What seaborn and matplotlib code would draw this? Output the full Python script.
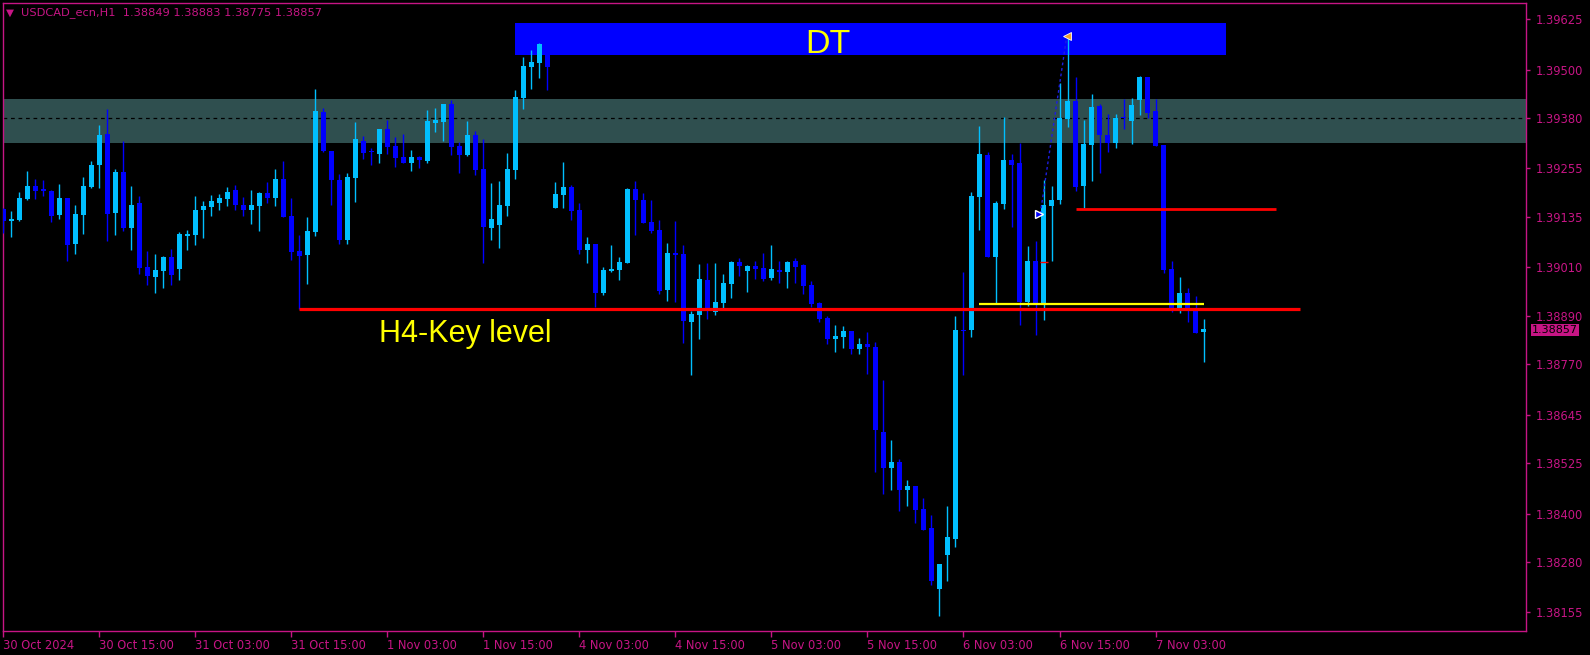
import matplotlib
matplotlib.use("Agg")
import matplotlib.pyplot as plt
import numpy as np
import pandas as pd
import seaborn as sns

# ---------------- data (USDCAD_ecn H1 candles) ----------------
open_ = [1.39155, 1.39126, 1.39128, 1.39180, 1.39212, 1.39203, 1.39200, 1.39140, 1.39182, 1.39068,
         1.39140, 1.39210, 1.39264, 1.39341, 1.39145, 1.39247, 1.39108, 1.39170, 1.39011, 1.38986,
         1.39001, 1.39036, 1.39006, 1.39088, 1.39091, 1.39153, 1.39160, 1.39170, 1.39180, 1.39202,
         1.39165, 1.39153, 1.39162, 1.39195, 1.39182, 1.39229, 1.39138, 1.39051, 1.39041, 1.39098,
         1.39395, 1.39299, 1.39227, 1.39078, 1.39232, 1.39323, 1.39296, 1.39291, 1.39353, 1.39311,
         1.39284, 1.39269, 1.39284, 1.39274, 1.39368, 1.39371, 1.39415, 1.39311, 1.39289, 1.39338,
         1.39254, 1.39108, 1.39115, 1.39162, 1.39252, 1.39430, 1.39507, 1.39517, 1.39561, 1.39157,
         1.39190, 1.39210, 1.39153, 1.39053, 1.39068, 1.38947, 1.39001, 1.39004, 1.39021, 1.39205,
         1.39177, 1.39123, 1.39103, 1.38954, 1.39046, 1.39043, 1.38875, 1.38892, 1.38979, 1.38900,
         1.38922, 1.38969, 1.39024, 1.39001, 1.39014, 1.39009, 1.38984, 1.39004, 1.38999, 1.39026,
         1.39016, 1.38967, 1.38922, 1.38885, 1.38833, 1.38838, 1.38853, 1.38808, 1.38820, 1.38813,
         1.38602, 1.38513, 1.38528, 1.38459, 1.38469, 1.38412, 1.38364, 1.38213, 1.38298, 1.38337,
         1.38855, 1.38855, 1.39185, 1.39289, 1.39036, 1.39167, 1.39276, 1.39269, 1.38925, 1.39026,
         1.38920, 1.39162, 1.39177, 1.39378, 1.39423, 1.39212, 1.39314, 1.39410, 1.39338, 1.39319,
         1.39382, 1.39373, 1.39425, 1.39482, 1.39398, 1.39314, 1.39006, 1.38910, 1.38947, 1.38905,
         1.38849]
high = [1.39157, 1.39150, 1.39197, 1.39249, 1.39229, 1.39227, 1.39202, 1.39217, 1.39182, 1.39165,
        1.39234, 1.39274, 1.39363, 1.39403, 1.39254, 1.39323, 1.39212, 1.39187, 1.39051, 1.39043,
        1.39039, 1.39056, 1.39098, 1.39103, 1.39187, 1.39175, 1.39190, 1.39192, 1.39210, 1.39214,
        1.39185, 1.39202, 1.39197, 1.39222, 1.39254, 1.39274, 1.39182, 1.39091, 1.39135, 1.39452,
        1.39405, 1.39299, 1.39242, 1.39244, 1.39371, 1.39336, 1.39306, 1.39353, 1.39376, 1.39333,
        1.39341, 1.39301, 1.39286, 1.39400, 1.39405, 1.39415, 1.39425, 1.39321, 1.39373, 1.39348,
        1.39328, 1.39219, 1.39224, 1.39294, 1.39450, 1.39532, 1.39549, 1.39566, 1.39564, 1.39222,
        1.39271, 1.39214, 1.39170, 1.39086, 1.39068, 1.39011, 1.39066, 1.39036, 1.39207, 1.39224,
        1.39195, 1.39177, 1.39128, 1.39071, 1.39125, 1.39066, 1.38902, 1.39019, 1.39021, 1.39021,
        1.38994, 1.39026, 1.39034, 1.39016, 1.39026, 1.39046, 1.39066, 1.39026, 1.39026, 1.39034,
        1.39019, 1.38977, 1.38924, 1.38890, 1.38867, 1.38865, 1.38853, 1.38835, 1.38850, 1.38825,
        1.38731, 1.38583, 1.38535, 1.38483, 1.38469, 1.38439, 1.38397, 1.38275, 1.38419, 1.38890,
        1.38999, 1.39197, 1.39361, 1.39296, 1.39175, 1.39383, 1.39291, 1.39319, 1.39063, 1.39076,
        1.39227, 1.39212, 1.39467, 1.39580, 1.39482, 1.39376, 1.39440, 1.39415, 1.39390, 1.39390,
        1.39428, 1.39430, 1.39485, 1.39482, 1.39428, 1.39314, 1.39026, 1.38986, 1.38959, 1.38939,
        1.38883]
low = [1.39095, 1.39084, 1.39125, 1.39177, 1.39180, 1.39187, 1.39123, 1.39130, 1.39026, 1.39043,
       1.39093, 1.39207, 1.39207, 1.39076, 1.39091, 1.39100, 1.39053, 1.38994, 1.38967, 1.38947,
       1.38959, 1.38967, 1.38979, 1.39053, 1.39066, 1.39083, 1.39138, 1.39153, 1.39162, 1.39153,
       1.39138, 1.39118, 1.39100, 1.39170, 1.39162, 1.39135, 1.39029, 1.38907, 1.38969, 1.39088,
       1.39296, 1.39165, 1.39068, 1.39068, 1.39172, 1.39279, 1.39264, 1.39269, 1.39291, 1.39259,
       1.39269, 1.39249, 1.39257, 1.39269, 1.39346, 1.39323, 1.39289, 1.39244, 1.39286, 1.39239,
       1.39021, 1.39078, 1.39058, 1.39138, 1.39229, 1.39403, 1.39452, 1.39480, 1.39450, 1.39157,
       1.39157, 1.39128, 1.39043, 1.39021, 1.38912, 1.38942, 1.38999, 1.38979, 1.39021, 1.39091,
       1.39120, 1.39095, 1.38944, 1.38927, 1.38924, 1.38823, 1.38744, 1.38833, 1.38882, 1.38892,
       1.38910, 1.38934, 1.38989, 1.38949, 1.38981, 1.38977, 1.38979, 1.38972, 1.38959, 1.38972,
       1.38944, 1.38912, 1.38875, 1.38820, 1.38801, 1.38811, 1.38796, 1.38796, 1.38746, 1.38503,
       1.38449, 1.38459, 1.38407, 1.38419, 1.38377, 1.38360, 1.38223, 1.38146, 1.38233, 1.38317,
       1.38744, 1.38838, 1.39103, 1.39036, 1.38922, 1.39155, 1.39110, 1.38868, 1.38915, 1.38843,
       1.38880, 1.39026, 1.39167, 1.39358, 1.39200, 1.39157, 1.39224, 1.39244, 1.39296, 1.39306,
       1.39353, 1.39316, 1.39388, 1.39380, 1.39311, 1.38996, 1.38900, 1.38897, 1.38875, 1.38848,
       1.38775]
close = [1.39125, 1.39130, 1.39182, 1.39212, 1.39200, 1.39198, 1.39138, 1.39182, 1.39066, 1.39143,
         1.39212, 1.39264, 1.39338, 1.39143, 1.39247, 1.39108, 1.39165, 1.39009, 1.38989, 1.39004,
         1.39036, 1.38991, 1.39093, 1.39093, 1.39153, 1.39162, 1.39175, 1.39182, 1.39197, 1.39165,
         1.39153, 1.39165, 1.39195, 1.39182, 1.39229, 1.39135, 1.39048, 1.39039, 1.39100, 1.39398,
         1.39299, 1.39227, 1.39078, 1.39234, 1.39328, 1.39294, 1.39295, 1.39353, 1.39309, 1.39281,
         1.39269, 1.39284, 1.39276, 1.39373, 1.39376, 1.39415, 1.39309, 1.39289, 1.39338, 1.39252,
         1.39110, 1.39130, 1.39165, 1.39254, 1.39433, 1.39509, 1.39519, 1.39564, 1.39507, 1.39192,
         1.39210, 1.39150, 1.39053, 1.39068, 1.38947, 1.39004, 1.39006, 1.39024, 1.39205, 1.39177,
         1.39120, 1.39100, 1.38952, 1.39046, 1.39041, 1.38877, 1.38895, 1.38981, 1.38902, 1.38924,
         1.38972, 1.39024, 1.39014, 1.39014, 1.39006, 1.38981, 1.39006, 1.38999, 1.39024, 1.39011,
         1.38964, 1.38920, 1.38882, 1.38833, 1.38840, 1.38853, 1.38808, 1.38820, 1.38813, 1.38607,
         1.38513, 1.38528, 1.38459, 1.38469, 1.38409, 1.38360, 1.38233, 1.38275, 1.38342, 1.38855,
         1.38853, 1.39187, 1.39291, 1.39036, 1.39170, 1.39276, 1.39264, 1.38925, 1.39026, 1.38920,
         1.39165, 1.39177, 1.39380, 1.39423, 1.39210, 1.39316, 1.39408, 1.39338, 1.39319, 1.39380,
         1.39379, 1.39413, 1.39482, 1.39393, 1.39311, 1.39004, 1.38910, 1.38947, 1.38905, 1.38848,
         1.38857]

xtick_labels = ["30 Oct 2024", "30 Oct 15:00", "31 Oct 03:00", "31 Oct 15:00", "1 Nov 03:00",
                "1 Nov 15:00", "4 Nov 03:00", "4 Nov 15:00", "5 Nov 03:00", "5 Nov 15:00",
                "6 Nov 03:00", "6 Nov 15:00", "7 Nov 03:00"]
bars_per_label = 12
ytick_values = [1.39625, 1.39500, 1.39380, 1.39255, 1.39135, 1.39010, 1.38890,
                1.38770, 1.38645, 1.38525, 1.38400, 1.38280, 1.38155]

zone_low, zone_high, zone_mid = 1.39318, 1.39427, 1.39380
dt_low, dt_high = 1.39535, 1.39616
key_level = 1.38907
resist_level = 1.39154
neck_level = 1.38920
zigzag_price = [1.39143, 1.39582]
last_price = 1.38857
header = "USDCAD_ecn,H1  1.38849 1.38883 1.38775 1.38857"

# ---------------- style ----------------
BULL = "#00BFFF"
BEAR = "#0000FF"
MAG = "#C71585"
sns.set_style("dark", {"axes.facecolor": "black", "figure.facecolor": "black"})
plt.rcParams["font.family"] = ["DejaVu Sans"]

df = pd.DataFrame({"open": open_, "high": high, "low": low, "close": close})
df["x"] = np.arange(len(df))
df["bull"] = df["close"] > df["open"]
df["color"] = np.where(df["bull"], BULL, BEAR)
body_lo = np.minimum(df["open"], df["close"])
body_h = np.maximum(np.abs(df["close"] - df["open"]), 0.000025)

W, H = 1590, 655
fig = plt.figure(figsize=(W / 100, H / 100), dpi=100, facecolor="black")
ax = fig.add_axes([3 / W, 24 / H, 1523 / W, 628 / H])
ax.set_facecolor("black")

# zone
ax.axhspan(zone_low, zone_high, color="#2F4F4F", zorder=1, lw=0)
ax.axhline(zone_mid, color="black", lw=0.9, ls=(0, (3, 3)), zorder=1.5)
# DT box
ax.fill_between([64, 152.8], dt_low, dt_high, color="#0000FF", lw=0, zorder=1.6)

# candles
ax.vlines(df["x"], df["low"], df["high"], colors=df["color"], lw=1.0, zorder=3)
ax.bar(df["x"], body_h, bottom=body_lo, width=0.6, color=df["color"], lw=0, zorder=3)

# lines
ax.hlines(key_level, 37, 162.1, colors="#FF0000", lw=2.3, zorder=4)
ax.hlines(resist_level, 134, 159.1, colors="#FF0000", lw=2.0, zorder=4)
ax.hlines(neck_level, 122, 150.1, colors="#FFFF00", lw=1.6, zorder=4)
ax.hlines(1.39023, 129.5, 130.5, colors="#FF0000", lw=1.0, zorder=4)
zz = pd.DataFrame({"x": [129.6, 132.9], "y": zigzag_price})
sns.lineplot(data=zz, x="x", y="y", ax=ax, color="#1E1EE0", lw=1.0,
             linestyle=(0, (2, 2)), zorder=4, legend=False)
ax.plot([132.9], [zigzag_price[1]], marker="<", ms=6, color="#F0A030", mec="white", mew=0.6, zorder=5)
ax.plot([129.4], [zigzag_price[0]], marker=">", ms=6, color="#0000FF", mec="white", mew=1.0, zorder=5)

# texts
ax.text(103.1, 1.39541, "DT", color="#FFFF00", fontsize=24.5, family=["Liberation Sans", "DejaVu Sans"],
        ha="center", va="baseline", zorder=6)
ax.text(47.0, 1.38824, "H4-Key level", color="#FFFF00", fontsize=22, family=["Liberation Sans", "DejaVu Sans"],
        ha="left", va="baseline", zorder=6)

# axes
ax.set_xlim(-0.04, 190.3)
ax.set_ylim(1.38109, 1.39665)
ax.grid(False)
for s in ax.spines.values():
    s.set_color(MAG)
    s.set_linewidth(1.0)
    s.set_visible(True)

ax.set_xticks(np.arange(len(xtick_labels)) * bars_per_label)
ax.set_xticklabels(xtick_labels, ha="left")
ax.tick_params(axis="x", colors=MAG, labelcolor=MAG, labelsize=8.3, direction="out",
               length=4, width=1, pad=2, bottom=True)
ax.yaxis.tick_right()
ax.set_yticks(ytick_values)
ax.set_yticklabels([f"{v:.5f}" for v in ytick_values])
ax.tick_params(axis="y", colors=MAG, labelcolor=MAG, labelsize=8.3, direction="out",
               length=3, width=1, pad=4, right=True, left=False)
ax.set_xlabel("")
ax.set_ylabel("")

# current price label
ax.annotate(f"{last_price:.5f}", xy=(1.0, last_price), xycoords=("axes fraction", "data"),
            xytext=(6, -1), textcoords="offset pixels", ha="left", va="center",
            fontsize=8.0, color="black",
            bbox=dict(boxstyle="square,pad=0.12", fc=MAG, ec="none"), annotation_clip=False)

# header
fig.text(6 / W, 1 - 12.5 / H, "▼", color=MAG, fontsize=7.5, ha="left", va="center")
fig.text(21 / W, 1 - 13 / H, header, color=MAG, fontsize=8.2, ha="left", va="center")

fig.savefig("out.png", dpi=100, facecolor="black")
